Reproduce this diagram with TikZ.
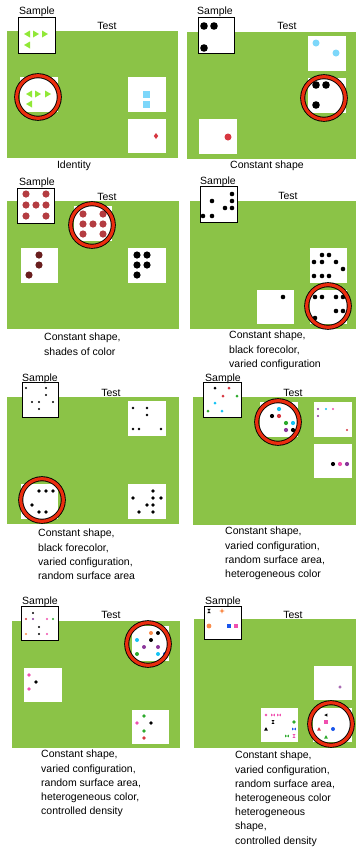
\documentclass[tikz,border=0pt]{standalone}
\usepackage{fontspec}
\setmainfont{Liberation Sans}
\definecolor{bggreen}{RGB}{139,195,71}
\definecolor{limeg}{RGB}{145,232,55}
\definecolor{lblue}{RGB}{125,215,250}
\definecolor{dred}{RGB}{215,55,65}
\definecolor{brred}{RGB}{180,60,65}
\definecolor{dbrown}{RGB}{105,30,30}
\definecolor{dcyan}{RGB}{20,195,245}
\definecolor{dgreen}{RGB}{45,170,45}
\definecolor{dpurple}{RGB}{140,55,155}
\definecolor{dpink}{RGB}{240,80,175}
\definecolor{dorange}{RGB}{250,140,75}
\definecolor{dblue}{RGB}{25,85,235}
\definecolor{ringred}{RGB}{235,45,15}
\tikzset{
  grn/.style={fill=bggreen},
  tbox/.style={fill=white},
  sbox/.style={fill=white, draw=black, line width=0.9pt},
  lbl/.style={font=\fontsize{10.5}{12}\selectfont, inner sep=0pt, anchor=base},
  captxt/.style={font=\fontsize{10.5}{14.2}\selectfont, inner sep=0pt, anchor=north west, align=left},
  ringnode/.style={circle, minimum size=42.6pt, inner sep=0pt, draw=black, line width=5pt},
  ringr/.style={draw=ringred, line width=3.2pt},
  trl/.pic={\fill[limeg] (-3,0) -- (3,-3.5) -- (3,3.5) -- cycle;},
  trr/.pic={\fill[limeg] (3,0) -- (-3,-3.5) -- (-3,3.5) -- cycle;},
  hgl/.pic={\fill (-1.8,-2.2) -- (1.8,-2.2) -- (-1.8,2.2) -- (1.8,2.2) -- cycle;},
  btf/.pic={\fill (-2.4,-1.8) -- (-2.4,1.8) -- (2.4,-1.8) -- (2.4,1.8) -- cycle;},
  sqr/.pic={\fill (-2.4,-2.4) rectangle (2.4,2.4);},
  tru/.pic={\fill (-2.4,2) -- (2.4,2) -- (0,-2.4) -- cycle;},
  tlf/.pic={\fill (-2.2,0) -- (1.8,-2) -- (1.8,2) -- cycle;},
  starp/.pic={\fill (0,-2.6) -- (0.8,-0.8) -- (2.6,0) -- (0.8,0.8) -- (0,2.6) -- (-0.8,0.8) -- (-2.6,0) -- (-0.8,-0.8) -- cycle;},
}
\newcommand\rng[3]{\node[ringnode] (#1) at (#2,#3) {}; \draw[ringr] (#1.center) circle (21.3pt);}
\begin{document}
\begin{tikzpicture}[x=1pt,y=-1pt]
\useasboundingbox (0,0) rectangle (356,847);
\fill[white] (0,0) rectangle (356,847);

% ---------------- Panel 1: Identity
\fill[grn] (7,31) rectangle (178,158);
\draw[sbox] (18,17) rectangle (55,53);
\node[lbl] (s1) at (37,14) {Sample};
\node[lbl] (t1) at (107,29) {Test};
\pic at (27,34) {trl}; \pic at (36,34) {trr}; \pic at (45,34) {trr}; \pic at (27,45) {trl};
\fill[tbox] (20,77) rectangle (58,112);
\pic at (29,94) {trl}; \pic at (38,94) {trr}; \pic at (48,94) {trr}; \pic at (29,104) {trl};
\fill[tbox] (128,77) rectangle (166,112);
\fill[lblue] (142.5,90.5) rectangle (149.5,97.5);
\fill[lblue] (142.5,100.5) rectangle (149.5,107.5);
\fill[tbox] (128,119) rectangle (166,153);
\fill[dred] (156,133) -- (158.2,136) -- (156,139) -- (153.8,136) -- cycle;
\rng{c1}{38}{97}
\node[lbl] (cap1) at (74,168) {Identity};

% ---------------- Panel 2: Constant shape
\fill[grn] (187,32) rectangle (356,159);
\draw[sbox] (198,17) rectangle (234,53);
\node[lbl] (s2) at (215,14) {Sample};
\node[lbl] (t2) at (287,29) {Test};
\fill (204,26) circle (3.8pt); \fill (214,26) circle (3.8pt); \fill (204,48) circle (3.8pt);
\fill[tbox] (308,36) rectangle (346,71);
\fill[lblue] (316,43) circle (3.5pt); \fill[lblue] (336,53) circle (3.5pt);
\fill[tbox] (308,78) rectangle (346,113);
\fill (316,85) circle (3.8pt); \fill (326,85) circle (3.8pt); \fill (316,105) circle (3.8pt);
\fill[tbox] (199,119) rectangle (237,154);
\fill[dred] (228,137) circle (3.5pt);
\rng{c2}{324}{98}
\node[lbl] (cap2) at (267,168) {Constant shape};

% ---------------- Panel 3: shades of color
\fill[grn] (7,201) rectangle (179,329);
\draw[sbox] (17,188) rectangle (54,223);
\node[lbl] (s3) at (37,185) {Sample};
\node[lbl] (t3) at (107,200) {Test};
\foreach \yy in {194,205,216} {\fill[brred] (26,\yy) circle (3.6pt); \fill[brred] (46,\yy) circle (3.6pt);}
\fill[brred] (36,205) circle (3.6pt);
\fill[tbox] (74,206) rectangle (112,241);
\foreach \yy in {214,224,234} {\fill[brred] (83,\yy) circle (3.6pt); \fill[brred] (103,\yy) circle (3.6pt);}
\fill[brred] (93,224) circle (3.6pt);
\fill[tbox] (21,248) rectangle (58,283);
\fill[dbrown] (39,255) circle (3.6pt); \fill[dbrown] (39,265) circle (3.6pt); \fill[dbrown] (29,275) circle (3.6pt);
\fill[tbox] (128,248) rectangle (166,283);
\fill (137,255) circle (3.6pt); \fill (147,255) circle (3.6pt);
\fill (137,265) circle (3.6pt); \fill (147,265) circle (3.6pt);
\fill (137,275) circle (3.6pt);
\rng{c3}{92}{225}
\node[captxt] (cap3) at (44,333) {Constant shape,\\shades of color};

% ---------------- Panel 4: black forecolor
\fill[grn] (190,201) rectangle (356,329);
\draw[sbox] (200,186) rectangle (237,222);
\node[lbl] (s4) at (218,184) {Sample};
\node[lbl] (t4) at (288,199) {Test};
\foreach \p in {(212,201),(232,194),(232,201),(225,208),(232,208),(203,216),(212,216)} {\fill \p circle (2.3pt);}
\fill[tbox] (310,248) rectangle (347,283);
\foreach \p in {(322,255),(329,255),(314,262),(322,262),(336,262),(343,269),(314,276),(322,276),(329,276)} {\fill \p circle (2.3pt);}
\fill[tbox] (257,290) rectangle (294,324);
\fill (283,297) circle (2.3pt);
\fill[tbox] (310,290) rectangle (347,324);
\foreach \p in {(315,297),(322,297),(336,297),(343,297),(336,311),(343,311),(315,318)} {\fill \p circle (2.3pt);}
\rng{c4}{328}{306}
\node[captxt] (cap4) at (229,331) {Constant shape,\\black forecolor,\\varied configuration};

% ---------------- Panel 5: random surface area
\fill[grn] (7,397) rectangle (179,524);
\draw[sbox] (22,382) rectangle (58,417);
\node[lbl] (s5) at (40,381) {Sample};
\node[lbl] (t5) at (111,396) {Test};
\foreach \p in {(26,388),(46,388),(46,395),(32,402),(39,402),(53,402),(39,409)} {\fill \p circle (1.2pt);}
\fill[tbox] (128,401) rectangle (166,436);
\foreach \p in {(133,408),(147,408),(147,415),(133,429),(139,429),(161,429)} {\fill \p circle (1.3pt);}
\fill[tbox] (21,484) rectangle (58,519);
\foreach \p in {(39,491),(46,491),(53,491),(32,505),(39,512),(46,512)} {\fill \p circle (1.9pt);}
\fill[tbox] (128,484) rectangle (166,519);
\foreach \p in {(153,491),(133,498),(153,498),(161,498),(147,505),(153,505),(139,512),(153,512)} {\fill \p circle (1.9pt);}
\rng{c5}{42}{500}
\node[captxt] (cap5) at (38,529) {Constant shape,\\black forecolor,\\varied configuration,\\random surface area};

% ---------------- Panel 6: heterogeneous color
\fill[grn] (193,397) rectangle (356,525);
\draw[sbox] (203,382) rectangle (241,417);
\node[lbl] (s6) at (223,381) {Sample};
\node[lbl] (t6) at (293,396) {Test};
\fill (215,388) circle (1.5pt); \fill[dred] (229,388) circle (1.5pt);
\fill[dred] (223,396) circle (1.5pt); \fill[dgreen] (237,396) circle (1.5pt);
\fill[dcyan] (215,403) circle (1.5pt); \fill[dgreen] (208,411) circle (1.5pt);
\fill[dcyan] (222,411) circle (1.5pt);
\fill[tbox] (260,402) rectangle (298,437);
\fill[dcyan] (279,409) circle (2.1pt); \fill (272,416) circle (2.1pt); \fill[dred] (279,416) circle (2.1pt);
\fill[dgreen] (286,423) circle (2.1pt); \fill[dcyan] (293,423) circle (2.1pt);
\fill[dpurple] (286,430) circle (2.1pt); \fill (293,430) circle (2.1pt);
\fill[tbox] (314,402) rectangle (352,437);
\fill[dpurple] (318,409) circle (1.2pt); \fill[dcyan] (326,409) circle (1.2pt); \fill[dpink] (333,409) circle (1.2pt);
\fill[dpurple] (318,416) circle (1.2pt); \fill[dred] (347,430) circle (1.2pt);
\fill[tbox] (314,444) rectangle (352,478);
\fill (333,464) circle (2.1pt); \fill[dpink] (340,464) circle (2.1pt); \fill[dpurple] (347,464) circle (2.1pt);
\rng{c6}{278}{422}
\node[captxt] (cap6) at (225,527) {Constant shape,\\varied configuration,\\random surface area,\\heterogeneous color};

% ---------------- Panel 7: controlled density
\fill[grn] (12,621) rectangle (180,748);
\draw[sbox] (21,606) rectangle (58,640);
\node[lbl] (s7) at (40,604) {Sample};
\node[lbl] (t7) at (111,618) {Test};
\fill (33,613) circle (1.2pt); \fill[dred] (26,619) circle (1.2pt); \fill[dpurple] (33,619) circle (1.2pt);
\fill[dpink] (47,619) circle (1.2pt); \fill[dgreen] (53,619) circle (1.2pt); \fill (39,627) circle (1.2pt);
\fill[dorange] (26,634) circle (1.2pt); \fill (39,634) circle (1.2pt); \fill[dpink] (47,634) circle (1.2pt);
\fill[tbox] (132,626) rectangle (169,661);
\fill[dorange] (151,633) circle (2pt); \fill (158,633) circle (2pt);
\fill[dcyan] (137,640) circle (2pt); \fill (151,640) circle (2pt);
\fill[dpurple] (144,647) circle (2pt); \fill[dpurple] (158,647) circle (2pt);
\fill[dgreen] (137,654) circle (2pt); \fill[dcyan] (158,654) circle (2pt); \fill[dblue] (165,654) circle (2pt);
\fill[tbox] (24,668) rectangle (62,702);
\fill[dpink] (29,675) circle (1.8pt); \fill (36,682) circle (1.8pt); \fill[dpink] (29,689) circle (1.8pt);
\fill[tbox] (132,710) rectangle (169,744);
\fill[dgreen] (144,716) circle (1.8pt); \fill[dpink] (137,723) circle (1.8pt); \fill (151,723) circle (1.8pt);
\fill[dgreen] (144,731) circle (1.8pt); \fill[dred] (144,738) circle (1.8pt);
\rng{c7}{148}{644}
\node[captxt] (cap7) at (41,750) {Constant shape,\\varied configuration,\\random surface area,\\heterogeneous color,\\controlled density};

% ---------------- Panel 8: heterogeneous shape
\fill[grn] (194,619) rectangle (356,748);
\draw[sbox] (204,606) rectangle (241,639);
\node[lbl] (s8) at (223,604) {Sample};
\node[lbl] (t8) at (293,618) {Test};
\pic at (209,611) {hgl};
\pic[dorange] at (222,611) {starp};
\fill[dorange] (209,626) circle (2.4pt);
\pic[dblue] at (229,626) {sqr};
\pic[dpink] at (236,626) {sqr};
\fill[tbox] (314,666) rectangle (352,700);
\pic[dpurple, scale=0.7] at (340,687) {starp};
\fill[tbox] (261,708) rectangle (298,742);
\fill[dpink] (266,715) circle (1.3pt);
\pic[dpink, scale=0.8] at (273,715) {btf};
\pic[dpink, scale=0.8] at (279,715) {btf};
\pic[scale=0.8] at (273,722) {hgl};
\pic[scale=0.8] at (266,729) {tru};
\fill[dgreen] (294,722) circle (1.8pt);
\pic[dblue, scale=0.8] at (294,729) {btf};
\pic[dgreen, scale=0.8] at (287,736) {btf};
\pic[dpink, scale=0.8] at (294,736) {hgl};
\fill[tbox] (313,708) rectangle (352,742);
\pic[scale=0.8] at (326,715) {tlf};
\pic[dpink, scale=0.9] at (326,722) {sqr};
\pic[dred, scale=0.8] at (319,729) {tru};
\fill[dblue] (333,729) circle (2pt);
\pic[dgreen, scale=0.8] at (326,737) {tru};
\rng{c8}{331}{724}
\node[captxt] (cap8) at (235,751) {Constant shape,\\varied configuration,\\random surface area,\\heterogeneous color\\heterogeneous\\shape,\\controlled density};
\end{tikzpicture}
\end{document}
